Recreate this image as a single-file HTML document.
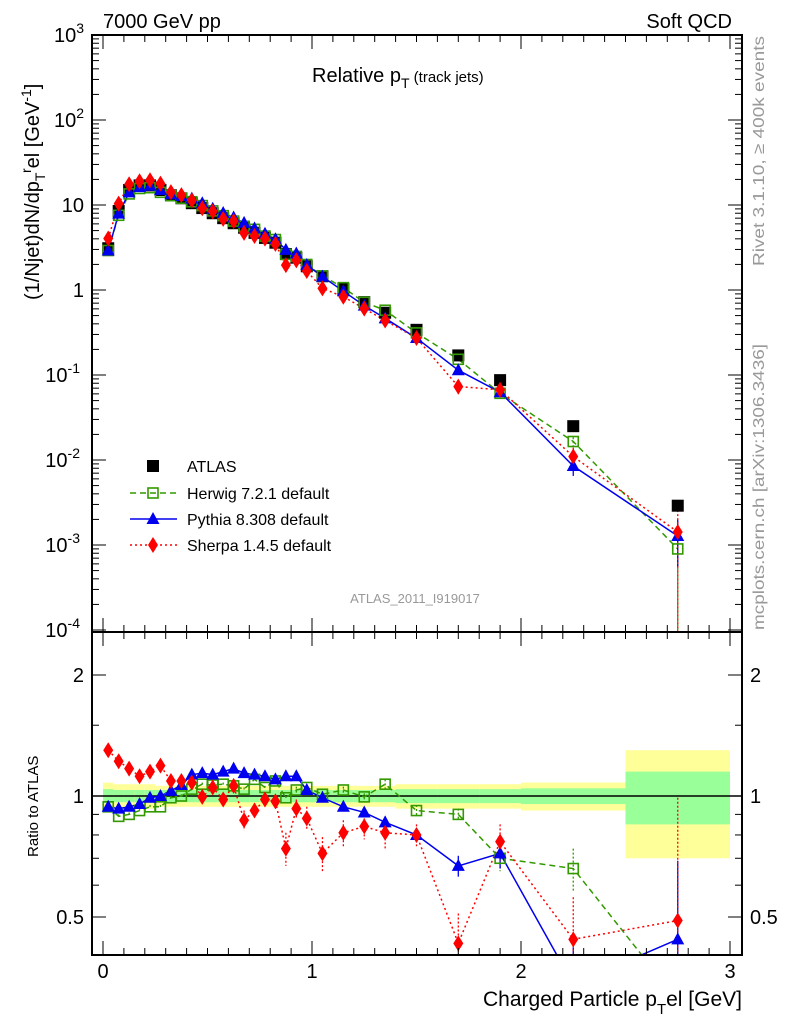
<!DOCTYPE html>
<html><head><meta charset="utf-8"><style>
html,body{margin:0;padding:0;background:#fff;width:786px;height:1024px;overflow:hidden;}
svg{display:block;font-family:"Liberation Sans",sans-serif;}
</style></head><body>
<svg id="chart" width="786" height="1024" viewBox="0 0 786 1024" xmlns="http://www.w3.org/2000/svg">
<defs>
<clipPath id="cm"><rect x="92" y="35" width="650" height="597"/></clipPath>
<clipPath id="cr"><rect x="92" y="632" width="650" height="323"/></clipPath>
</defs>
<g id="bands" clip-path="url(#cr)"></g>
<g id="main" clip-path="url(#cm)"></g>
<g id="ratio" clip-path="url(#cr)"></g>
<rect x="92" y="35" width="650" height="597" fill="none" stroke="#000" stroke-width="2"/>
<rect x="92" y="632" width="650" height="323" fill="none" stroke="#000" stroke-width="2"/>
<g id="axes"></g>
<text x="103" y="28" font-size="20">7000 GeV pp</text>
<text x="732" y="28" font-size="20" text-anchor="end">Soft QCD</text>
<text x="312" y="82" font-size="20">Relative p<tspan font-size="14" dy="6">T</tspan><tspan font-size="15" dy="-6"> (track jets)</tspan></text>
<text x="415" y="603" font-size="13" fill="#999" text-anchor="middle">ATLAS_2011_I919017</text>
<text transform="translate(39,300) rotate(-90)" font-size="20">(1/Njet)dN/dp<tspan font-size="14" dy="6">T</tspan><tspan font-size="14" dy="-14">r</tspan><tspan dy="8">el [GeV</tspan><tspan font-size="14" dy="-8">-1</tspan><tspan dy="8">]</tspan></text>
<text transform="translate(38,857) rotate(-90)" font-size="15">Ratio to ATLAS</text>
<text x="742" y="1006" font-size="21" text-anchor="end">Charged Particle p<tspan font-size="15" dy="8">T</tspan><tspan dy="-8">el [GeV]</tspan></text>
<text transform="translate(764,266) rotate(-90)" font-size="16" fill="#999" textLength="230" lengthAdjust="spacingAndGlyphs">Rivet 3.1.10, ≥ 400k events</text>
<text transform="translate(764,630) rotate(-90)" font-size="16" fill="#999" textLength="286" lengthAdjust="spacingAndGlyphs">mcplots.cern.ch [arXiv:1306.3436]</text>
<g id="legend"></g>
</svg>
<script>
const xCenters=[0.025,0.075,0.125,0.175,0.225,0.275,0.325,0.375,0.425,0.475,0.525,0.575,0.625,0.675,0.725,0.775,0.825,0.875,0.925,0.975,1.05,1.15,1.25,1.35,1.5,1.7,1.9,2.25,2.75];
const binEdges=[0,0.05,0.1,0.15,0.2,0.25,0.3,0.35,0.4,0.45,0.5,0.55,0.6,0.65,0.7,0.75,0.8,0.85,0.9,0.95,1.0,1.1,1.2,1.3,1.4,1.6,1.8,2.0,2.5,3.0];
const atlasValues=[3.1,8.5,15,17,17,15,13,12,10.5,9.2,8,7,6.1,5.4,4.7,4.1,3.6,2.65,2.4,1.9,1.45,1.03,0.72,0.54,0.34,0.17,0.087,0.025,0.0029];
const atlasBandOuter=[0.08,0.07,0.07,0.07,0.07,0.06,0.06,0.06,0.06,0.06,0.06,0.06,0.06,0.06,0.06,0.06,0.06,0.06,0.06,0.06,0.06,0.06,0.06,0.06,0.07,0.07,0.07,0.08,0.3];
const atlasBandInner=[0.04,0.035,0.035,0.035,0.035,0.035,0.035,0.035,0.035,0.035,0.035,0.035,0.035,0.035,0.035,0.035,0.035,0.035,0.035,0.035,0.035,0.035,0.035,0.035,0.04,0.04,0.04,0.045,0.15];
const herwigRatio=[0.94,0.89,0.90,0.92,0.94,0.94,0.99,1.0,1.04,1.07,1.065,1.07,1.06,1.04,1.10,1.05,1.09,0.99,1.035,1.05,1.01,1.035,0.995,1.07,0.92,0.90,0.70,0.66,0.31];
const pythiaRatio=[0.94,0.93,0.94,0.955,0.99,1.0,1.03,1.065,1.13,1.14,1.13,1.15,1.17,1.14,1.13,1.12,1.10,1.12,1.12,1.035,0.99,0.94,0.91,0.86,0.80,0.67,0.72,0.34,0.44];
const sherpaRatio=[1.30,1.22,1.17,1.12,1.15,1.19,1.09,1.09,1.08,0.995,1.05,0.98,1.06,0.87,0.92,0.98,0.97,0.74,0.93,0.88,0.72,0.81,0.84,0.81,0.80,0.43,0.77,0.44,0.49];
const sherpaErr=[0.04,0.03,0.02,0.02,0.02,0.02,0.02,0.02,0.02,0.03,0.03,0.03,0.03,0.05,0.04,0.04,0.04,0.07,0.05,0.06,0.07,0.06,0.06,0.07,0.05,0.08,0.08,0.12,0.5];
const herwigErr=[0.01,0.01,0.01,0.01,0.01,0.01,0.01,0.01,0.01,0.01,0.01,0.01,0.01,0.01,0.01,0.01,0.01,0.01,0.02,0.02,0.02,0.02,0.02,0.03,0.03,0.03,0.05,0.08,0.3];
const pythiaErr=[0.01,0.01,0.01,0.01,0.01,0.01,0.01,0.01,0.01,0.01,0.01,0.01,0.01,0.01,0.01,0.01,0.01,0.02,0.02,0.02,0.02,0.02,0.02,0.03,0.03,0.04,0.06,0.08,0.25];
const mainYTickExps=[-4,-3,-2,-1,0,1,2,3];
const ratioYTicks=[0.5,1,2];
const xTicks=[0,1,2,3];

const NS="http://www.w3.org/2000/svg";
const X=v=>103+209*v;
const YM=v=>290-85*Math.log10(v);
const YR=r=>796-121*Math.log2(r);
function el(tag,attrs,parent,txt){const e=document.createElementNS(NS,tag);for(const k in attrs)e.setAttribute(k,attrs[k]);if(txt!==undefined)e.textContent=txt;parent.appendChild(e);return e;}
const main=document.getElementById('main'),ratio=document.getElementById('ratio'),bands=document.getElementById('bands'),axes=document.getElementById('axes'),legend=document.getElementById('legend');

xCenters.forEach((c,i)=>{
  const x1=X(binEdges[i]),x2=X(binEdges[i+1]);
  let r=el('rect',{x:x1,y:YR(1+atlasBandOuter[i]),width:x2-x1,height:YR(1-atlasBandOuter[i])-YR(1+atlasBandOuter[i]),fill:'#ffff99'},bands);
  
  
  r=el('rect',{x:x1,y:YR(1+atlasBandInner[i]),width:x2-x1,height:YR(1-atlasBandInner[i])-YR(1+atlasBandInner[i]),fill:'#99ff99'},bands);
  
  
});
let ref=el('line',{x1:92,x2:742,y1:YR(1),y2:YR(1),stroke:'#000','stroke-width':1.5},ratio);



function marker(kind,x,y,color,parent,name){
  let m;
  if(kind==='sq') m=el('rect',{x:x-6,y:y-6,width:12,height:12,fill:'#000'},parent);
  else if(kind==='osq') m=el('rect',{x:x-5,y:y-5,width:10,height:10,fill:'none',stroke:color,'stroke-width':1.6},parent);
  else if(kind==='tri') m=el('polygon',{points:`${x},${y-7} ${x-6.5},${y+5} ${x+6.5},${y+5}`,fill:color},parent);
  else m=el('polygon',{points:`${x},${y-8} ${x-5},${y} ${x},${y+8} ${x+5},${y}`,fill:color},parent);
  
  
}
const gens=[
  {name:'herwig',ratio:herwigRatio,err:herwigErr,color:'#339900',dash:'6,4',kind:'osq'},
  {name:'pythia',ratio:pythiaRatio,err:pythiaErr,color:'#0000ee',dash:'',kind:'tri'},
  {name:'sherpa',ratio:sherpaRatio,err:sherpaErr,color:'#ff0000',dash:'2,3',kind:'dia'}
];
gens.forEach(g=>{
  const vals=xCenters.map((c,i)=>atlasValues[i]*g.ratio[i]);
  let p=el('polyline',{points:xCenters.map((c,i)=>X(c)+','+YM(vals[i])).join(' '),fill:'none',stroke:g.color,'stroke-width':1.5,'stroke-dasharray':g.dash},main);
  
  
  p=el('polyline',{points:xCenters.map((c,i)=>X(c)+','+YR(g.ratio[i])).join(' '),fill:'none',stroke:g.color,'stroke-width':1.5,'stroke-dasharray':g.dash},ratio);
  
  
  xCenters.forEach((c,i)=>{
    const r=g.ratio[i],e=g.err[i];
    const lo=Math.max(r-e,0.01);
    let eb=el('line',{x1:X(c),x2:X(c),y1:YR(r+e),y2:YR(lo),stroke:g.color,'stroke-width':1.3,'stroke-dasharray':g.dash?'2,2':''},ratio);
    
    
    eb=el('line',{x1:X(c),x2:X(c),y1:YM(atlasValues[i]*(r+e)),y2:YM(atlasValues[i]*lo),stroke:g.color,'stroke-width':1.3,'stroke-dasharray':g.dash?'2,2':''},main);
    
    
  });
  g.vals=vals;
});
xCenters.forEach((c,i)=>marker('sq',X(c),YM(atlasValues[i]),'#000',main,'atlas-point'));
gens.forEach(g=>{
  xCenters.forEach((c,i)=>{
    marker(g.kind,X(c),YM(g.vals[i]),g.color,main,g.name+'-point');
    marker(g.kind,X(c),YR(g.ratio[i]),g.color,ratio,g.name+'-ratio-point');
  });
});

for(let k=0;k<=30;k++){
  const v=k/10,x=X(v),big=k%10===0,len=big?14:7;
  [[35,1],[632,-1],[632,1],[955,-1]].forEach(([y,d])=>{
    const t=el('line',{x1:x,x2:x,y1:y,y2:y+d*len,stroke:'#000','stroke-width':1},axes);
    
    
  });
}
xTicks.forEach(v=>{
  const t=el('text',{x:X(v),y:978,'font-size':20,'text-anchor':'middle'},axes,String(v));
  
  
});
mainYTickExps.forEach(e=>{
  for(let m=1;m<=9;m++){
    const v=m*Math.pow(10,e),y=YM(v);
    if(y<35||y>632)continue;
    const len=m===1?14:7;
    [[92,1],[742,-1]].forEach(([x,d])=>{
      const t=el('line',{x1:x,x2:x+d*len,y1:y,y2:y,stroke:'#000','stroke-width':1},axes);
      
      
    });
  }
  const y=YM(Math.pow(10,e));
  let t;
  if(e===0) t=el('text',{x:84,y:y+7,'font-size':20,'text-anchor':'end'},axes,'1');
  else if(e===1) t=el('text',{x:84,y:y+7,'font-size':20,'text-anchor':'end'},axes,'10');
  else {t=el('text',{x:84,y:y+7,'font-size':20,'text-anchor':'end'},axes);
    const a=document.createElementNS(NS,'tspan');a.textContent='10';t.appendChild(a);
    const b=document.createElementNS(NS,'tspan');b.setAttribute('dy','-9');b.setAttribute('font-size','14');b.textContent=String(e);t.appendChild(b);
    t.setAttribute('x',e<0?80:84);}
  
  
});
[0.4,0.5,0.6,0.7,0.8,0.9,1,1.5,2].forEach(v=>{
  const y=YR(v);if(y<632||y>955)return;
  const big=ratioYTicks.includes(v),len=big?14:7;
  [[92,1],[742,-1]].forEach(([x,d])=>{
    const t=el('line',{x1:x,x2:x+d*len,y1:y,y2:y,stroke:'#000','stroke-width':1},axes);
    
    
  });
});
ratioYTicks.forEach(v=>{
  const y=YR(v);
  let t=el('text',{x:84,y:y+7,'font-size':20,'text-anchor':'end'},axes,String(v));
  
  
  t=el('text',{x:750,y:y+7,'font-size':20},axes,String(v));
  
  
});

const legRows=[
  {label:'ATLAS',kind:'sq',color:'#000',dash:null,y:466},
  {label:'Herwig 7.2.1 default',kind:'osq',color:'#339900',dash:'6,4',y:493},
  {label:'Pythia 8.308 default',kind:'tri',color:'#0000ee',dash:'',y:519},
  {label:'Sherpa 1.4.5 default',kind:'dia',color:'#ff0000',dash:'2,3',y:545}
];
legRows.forEach(r=>{
  const g=el('g',{},legend);
  
  
  if(r.dash!==null){const l=el('line',{x1:130,x2:177,y1:r.y,y2:r.y,stroke:r.color,'stroke-width':1.5,'stroke-dasharray':r.dash},g);
    
    }
  marker(r.kind,153,r.y,r.color,g,'legend-marker');
  const t=el('text',{x:187,y:r.y+6,'font-size':16},g,r.label);
  
  
});
</script>
</body></html>
